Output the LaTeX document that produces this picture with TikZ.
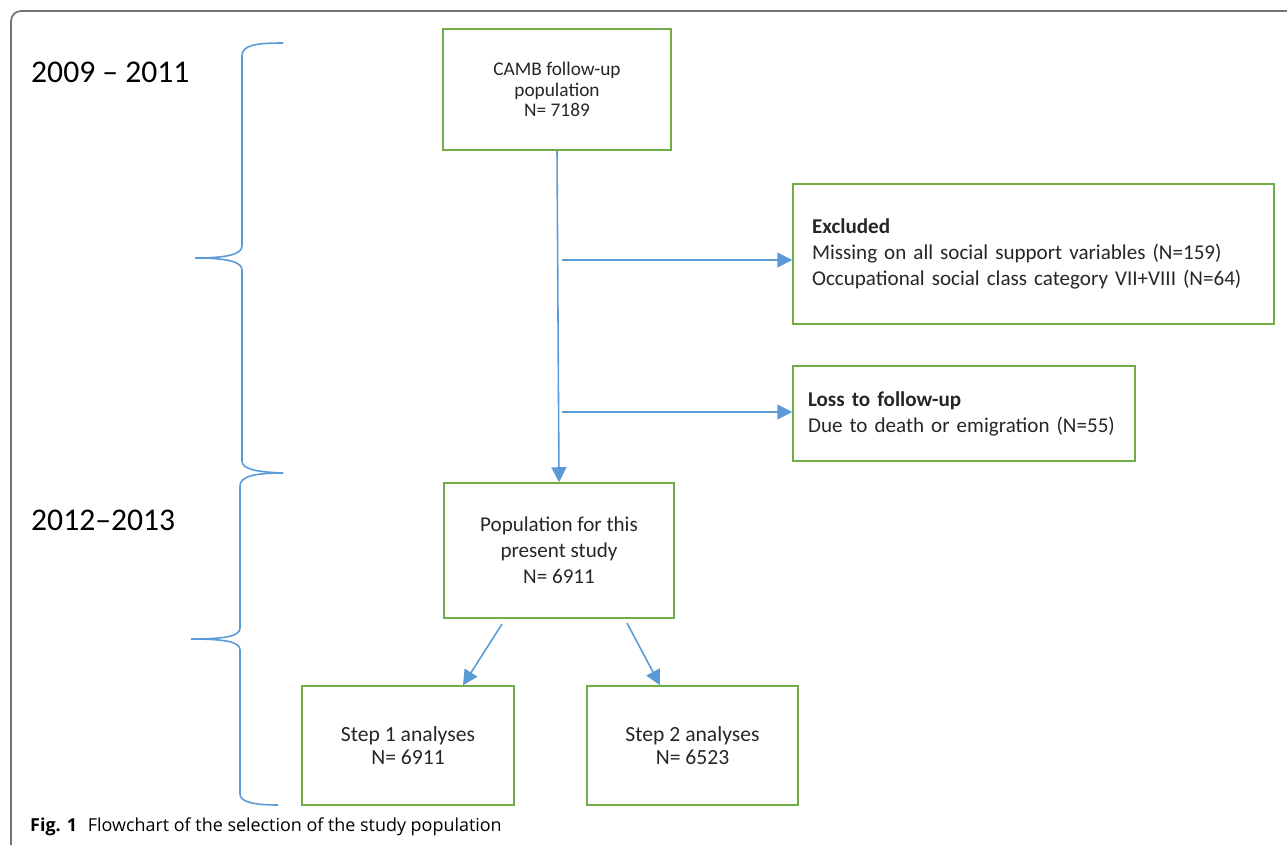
\documentclass[tikz,border=0pt]{standalone}
\usepackage{fontspec}
\setmainfont{Carlito}
\newfontfamily\capfont{Open Sans}
\usetikzlibrary{arrows.meta}
\definecolor{boxgreen}{HTML}{70AD47}
\definecolor{linkblue}{HTML}{5B9BD5}
\begin{document}
\begin{tikzpicture}[x=0.02cm,y=-0.02cm,>={Triangle[length=0.3cm,width=0.3cm]},
	box/.style={draw=boxgreen,line width=0.9pt,text=black!85,inner sep=0pt,font=\fontsize{12}{14.7}\selectfont},
	link/.style={linkblue,line width=0.9pt},
	brace/.style={linkblue,line width=0.9pt},
	year/.style={anchor=west,font=\fontsize{18}{20}\selectfont}]
	\useasboundingbox (0,0) rectangle (1287,845);
	\draw[black!55,line width=1pt,rounded corners=0.2cm] (1287,11)--(11,11)--(11,845);
	\node[year] (yr1) at (25,72) {2009 -- 2011};
	\node[year] (yr2) at (25,520) {2012--2013};
	\node[box,minimum width=4.56cm,minimum height=2.42cm,align=center,
	font=\fontsize{11}{11.5}\selectfont] (camb) at (557,89.5)
	{CAMB follow-up\\population\\N= 7189};
	\node[box,text width=8.86cm,inner xsep=0.38cm,minimum height=2.8cm,
	align=left] (excl) at (1033.5,254)
	{\textbf{Excluded}\\Missing on all social support variables (N=159)\\Occupational social class category VII+VIII (N=64)};
	\node[box,text width=6.24cm,inner xsep=0.3cm,minimum height=1.9cm,
	align=left] (loss) at (964,413.5)
	{\textbf{Loss to follow-up}\\Due to death or emigration (N=55)};
	\node[box,minimum width=4.6cm,minimum height=2.7cm,align=center] (pop) at (559,550.5)
	{Population for this\\present study\\N= 6911};
	\node[box,minimum width=4.24cm,minimum height=2.38cm,align=center,
	font=\fontsize{12.3}{13}\selectfont] (step1) at (408,745.5)
	{Step 1 analyses\\N= 6911};
	\node[box,minimum width=4.22cm,minimum height=2.38cm,align=center,
	font=\fontsize{12.3}{13}\selectfont] (step2) at (692.5,745.5)
	{Step 2 analyses\\N= 6523};
	\coordinate (j1) at (562,260);
	\coordinate (j2) at (562,412);
	\coordinate (d1) at (502,624);
	\coordinate (d2) at (627,623);
	\draw[link,->] (camb.south) -- (pop.north);
	\draw[link,->] (j1) -- (j1 -| excl.west);
	\draw[link,->] (j2) -- (j2 -| loss.west);
	\draw[link,->] (d1) -- ([xshift=1.1cm]step1.north);
	\draw[link,->] (d2) -- ([xshift=-0.65cm]step2.north);
	\draw[brace] (283,43) .. controls (256,43) and (242,45) .. (242,56) -- (242,246)
	.. controls (242,254) and (228,258) .. (195,258)
	.. controls (228,258) and (242,262) .. (242,270) -- (242,461)
	.. controls (242,469) and (256,472) .. (283,473);
	\draw[brace] (283,473) .. controls (256,473) and (240,476) .. (240,486) -- (240,628)
	.. controls (240,636) and (226,639) .. (191,639)
	.. controls (226,639) and (240,642) .. (240,650) -- (240,794)
	.. controls (240,802) and (254,805) .. (278,805);
	\node[anchor=west,font=\capfont\fontsize{10.2}{12}\selectfont] (cap) at (24,827)
	{\textbf{Fig. 1}\hspace{0.6em}Flowchart of the selection of the study population};
\end{tikzpicture}
\end{document}
